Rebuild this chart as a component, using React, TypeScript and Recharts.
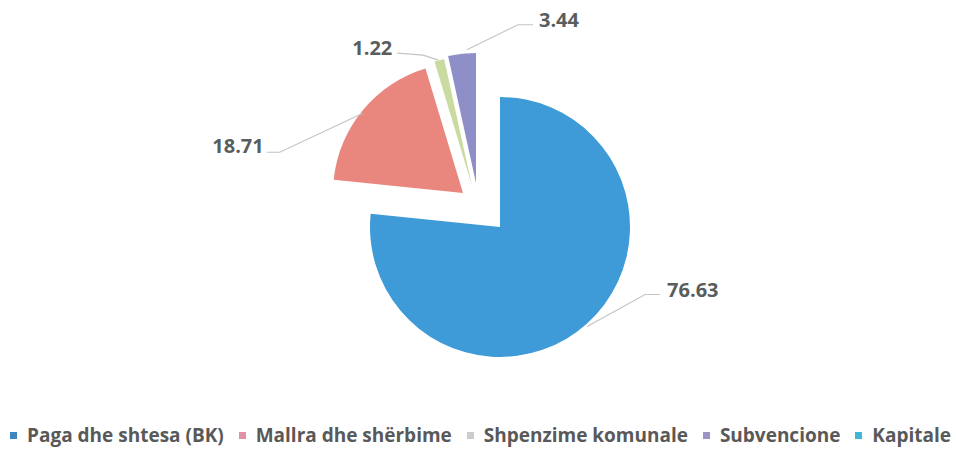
import React from 'react';
import { PieChart, Pie, Cell, Legend } from 'recharts';

const categories = ['Paga dhe shtesa (BK)', 'Mallra dhe shërbime', 'Shpenzime komunale', 'Subvencione', 'Kapitale'];
const values = [76.63, 18.71, 1.22, 3.44, 0];
const labels = ['76.63', '18.71', '1.22', '3.44', ''];

const sliceColors = ['#3f9bd7', '#e9877f', '#c9dba0', '#8e8fc8', '#4bb8d9'];
const legendColors = ['#3f86c1', '#e291a3', '#cccccc', '#9a94c4', '#45b5d6'];

// explode offsets (style)
const explode: [number, number][] = [[0, 0], [-37, -34], [-28, -41], [-24, -44], [0, 0]];
// leader line geometry relative to the slice's outer point (style)
const leader: { pts: [number, number][]; tx: number; ty: number; anchor: 'start' | 'end' }[] = [
  { pts: [[0, 3], [58, -29], [73, -29]], tx: 80, ty: -27, anchor: 'start' },
  { pts: [[0, 3], [-83, 42], [-96, 42]], tx: -99, ty: 43, anchor: 'end' },
  { pts: [[-1, 0], [-16, -5], [-42, -7]], tx: -47, ty: -5, anchor: 'end' },
  { pts: [[5, -4], [56, -29], [71, -29]], tx: 77, ty: -27, anchor: 'start' },
  { pts: [], tx: 0, ty: 0, anchor: 'start' },
];

const data = categories.map((name, i) => ({ name, value: values[i] }));

const RAD = Math.PI / 180;

const renderLabel = (props: any) => {
  const { cx, cy, midAngle, outerRadius, index } = props;
  if (!labels[index]) return null;
  const [dx, dy] = explode[index];
  const px = cx + dx + outerRadius * Math.cos(-midAngle * RAD);
  const py = cy + dy + outerRadius * Math.sin(-midAngle * RAD);
  const L = leader[index];
  const d = L.pts.map((p, k) => `${k === 0 ? 'M' : 'L'}${px + p[0]},${py + p[1]}`).join(' ');
  return (
    <g key={`lbl-${index}`}>
      <path d={d} stroke="#c4c4c4" strokeWidth={1.2} fill="none" />
      <text
        x={px + L.tx}
        y={py + L.ty}
        textAnchor={L.anchor}
        fill="#585d5d"
        style={{ fontFamily: '"Open Sans", sans-serif', fontWeight: 700, fontSize: 20 }}
      >
        {labels[index]}
      </text>
    </g>
  );
};

const renderLegend = () => (
  <div
    style={{
      display: 'flex',
      justifyContent: 'space-between',
      alignItems: 'center',
      paddingLeft: 10,
      paddingRight: 5,
      height: 24,
      fontFamily: '"Open Sans", sans-serif',
      fontWeight: 700,
      fontSize: 19,
      color: '#595959',
      whiteSpace: 'nowrap',
    }}
  >
    {categories.map((c, i) => (
      <div key={c} style={{ display: 'flex', alignItems: 'center' }}>
        <span style={{ display: 'inline-block', width: 7, height: 7, background: legendColors[i], marginRight: 10 }} />
        <span>{c}</span>
      </div>
    ))}
  </div>
);

export default function App() {
  return (
    <div style={{ position: 'absolute', left: 0, top: 0, width: 956, height: 455, background: '#fff' }}>
      <PieChart width={956} height={455} margin={{ top: 0, right: 0, bottom: 0, left: 0 }}>
        <Pie
          data={data}
          dataKey="value"
          nameKey="name"
          cx={500}
          cy={227}
          outerRadius={130}
          startAngle={90}
          endAngle={-270}
          stroke="none"
          label={renderLabel}
          labelLine={false}
          isAnimationActive={false}
        >
          {data.map((d, i) => (
            <Cell key={d.name} fill={sliceColors[i]} transform={`translate(${explode[i][0]},${explode[i][1]})`} />
          ))}
        </Pie>
        <Legend
          content={renderLegend}
          wrapperStyle={{ left: 0, top: 423, width: 956, height: 24 }}
        />
      </PieChart>
    </div>
  );
}
